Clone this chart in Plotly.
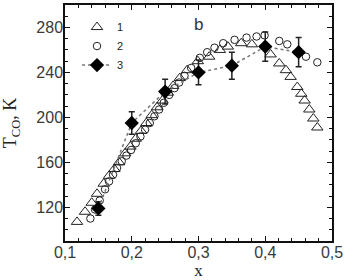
import plotly.graph_objects as go

# Series 1 (open triangles)
x1 = [0.118, 0.130, 0.140, 0.148, 0.158, 0.166, 0.174, 0.181, 0.190, 0.198, 0.206, 0.214,
      0.222, 0.230, 0.238, 0.246, 0.254, 0.262, 0.272, 0.283, 0.299, 0.316, 0.332, 0.344,
      0.364, 0.380, 0.408, 0.421, 0.431, 0.438, 0.448, 0.454, 0.459, 0.466, 0.472, 0.478]
t1 = [107, 116, 124, 132, 141, 148, 154, 160, 168, 174, 181, 188,
      195, 202, 209, 215, 222, 228, 235, 242, 250, 254, 260, 263,
      266, 265, 256, 248, 242, 236, 227, 221, 215, 207, 199, 191]

# Series 2 (open circles)
x2 = [0.138, 0.145, 0.152, 0.160, 0.166, 0.172, 0.178, 0.185, 0.192, 0.199, 0.206, 0.213,
      0.220, 0.227, 0.234, 0.241, 0.248, 0.256, 0.264, 0.271, 0.279, 0.289, 0.302, 0.313,
      0.324, 0.337, 0.354, 0.372, 0.387, 0.399, 0.421, 0.433, 0.461, 0.478]
t2 = [110, 118, 126, 136, 143, 149, 155, 161, 166, 171, 177, 183,
      189, 195, 201, 207, 213, 220, 226, 231, 237, 244, 253, 258,
      262, 266, 269, 271, 272, 273, 268, 265, 254, 249]

# Series 3 (filled diamonds with error bars)
x3 = [0.15, 0.20, 0.25, 0.30, 0.35, 0.40, 0.45]
t3 = [119, 195, 223, 240, 246, 263, 258]
e3 = [6, 10, 11, 11, 12, 13, 13]

x_ticks = [0.1, 0.2, 0.3, 0.4, 0.5]
y_ticks = [120, 160, 200, 240, 280]

fig = go.Figure()
fig.add_trace(go.Scatter(
    x=x1, y=t1, mode="markers", name="1",
    marker=dict(symbol="triangle-up-open", size=10, color="#222", line=dict(width=1))))
fig.add_trace(go.Scatter(
    x=x2, y=t2, mode="markers", name="2",
    marker=dict(symbol="circle-open", size=7.5, color="#222", line=dict(width=1))))
fig.add_trace(go.Scatter(
    x=x3, y=t3, mode="lines+markers", name="3",
    line=dict(color="#777", width=1.5, dash="dot"),
    marker=dict(symbol="diamond", size=11, color="#000"),
    error_y=dict(type="data", array=e3, color="#222", thickness=1.5, width=3)))

axis_common = dict(
    showline=True, linecolor="#111", linewidth=1.5, mirror="ticks",
    ticks="inside", ticklen=5, tickcolor="#111", tickwidth=1,
    showgrid=False, zeroline=False, automargin=False,
    tickfont=dict(family="Liberation Sans, Arial", size=16, color="#3a3a3a"),
)

fig.update_xaxes(
    range=[0.1, 0.5], tickvals=x_ticks, tickformat=".1f",
    minor=dict(dtick=0.02, tick0=0.1, ticks="inside", ticklen=3, tickcolor="#111"),
    title=dict(text="x", font=dict(family="Liberation Serif, Times New Roman", size=17, color="#222")),
    ticklabelstandoff=-4,
    **axis_common)
fig.update_yaxes(
    range=[90, 300], tickvals=y_ticks,
    minor=dict(dtick=10, tick0=90, ticks="inside", ticklen=3, tickcolor="#111"),
    title=dict(text="T<sub>CO</sub>, K", font=dict(family="Liberation Serif, Times New Roman", size=18, color="#222")),
    ticklabelstandoff=-3,
    **axis_common)

fig.add_annotation(x=0.3, y=283, xref="x", yref="y", text="b", showarrow=False,
                   font=dict(family="Liberation Sans, Arial", size=17, color="#333"))

fig.update_layout(
    width=346, height=280,
    margin=dict(l=65, r=14, t=5, b=39),
    paper_bgcolor="white", plot_bgcolor="white",
    separators=", ",
    showlegend=True,
    legend=dict(x=0.045, y=0.968, xanchor="left", yanchor="top",
                bgcolor="rgba(0,0,0,0)", font=dict(family="Liberation Sans, Arial", size=11, color="#222"),
                tracegroupgap=0, itemwidth=30),
)

# remove the default page margin so the figure sits at the window's top-left corner
fig.write_html("out.html", config={"displayModeBar": False},
               post_script="document.body.style.margin='0';")
